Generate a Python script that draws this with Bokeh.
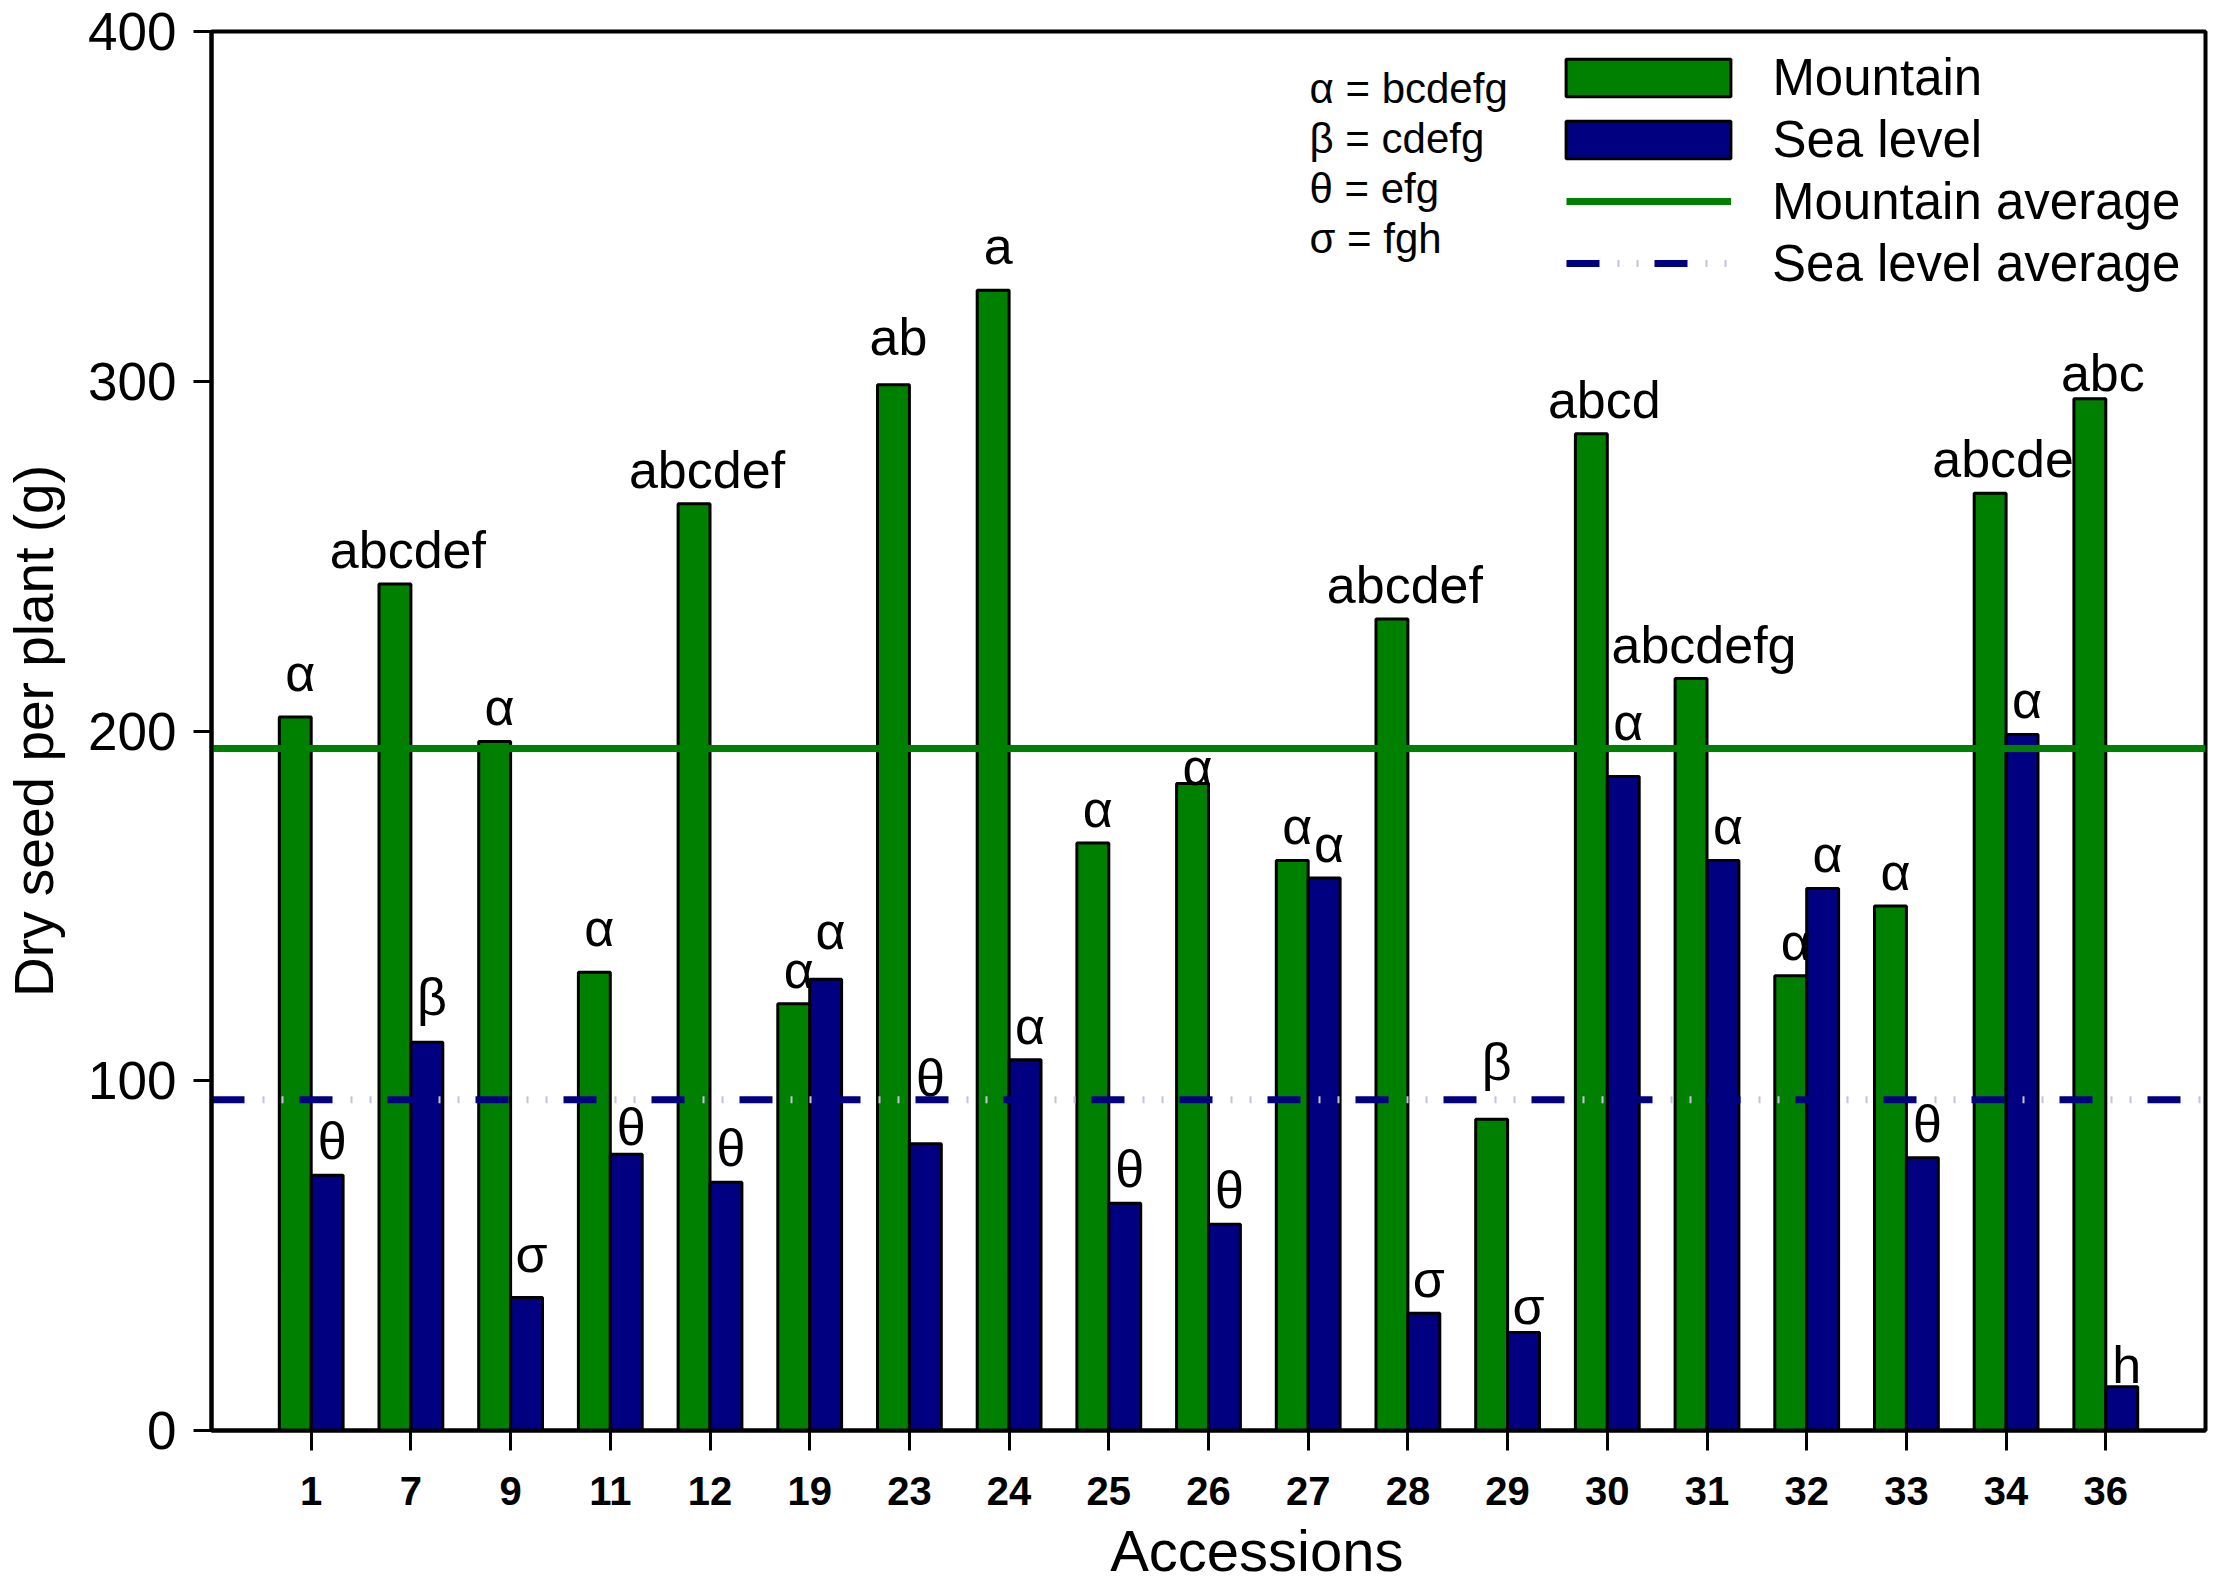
from bokeh.plotting import figure
from bokeh.models import (Range1d, FixedTicker, Legend, LegendItem, Label,
                          ColumnDataSource)
from bokeh.core.properties import value
from bokeh.embed import file_html
from bokeh.resources import INLINE

# ---------------- data ----------------
accessions = ["1", "7", "9", "11", "12", "19", "23", "24", "25", "26",
              "27", "28", "29", "30", "31", "32", "33", "34", "36"]
mountain = [204, 242, 197, 131, 265, 122, 299, 326, 168, 185,
            163, 232, 89, 285, 215, 130, 150, 268, 295]
sea_level = [73, 111, 38, 79, 71, 129, 82, 106, 65, 59,
             158, 33.5, 28, 187, 163, 155, 78, 199, 12.5]
mountain_letters = ["α", "abcdef", "α", "α", "abcdef", "α", "ab", "a", "α", "α",
                    "α", "abcdef", "β", "abcd", "abcdefg", "α", "α", "abcde", "abc"]
sea_letters = ["θ", "β", "σ", "θ", "θ", "α", "θ", "α", "θ", "θ",
               "α", "σ", "σ", "α", "α", "α", "θ", "α", "h"]
mountain_average = 195.0
sea_level_average = 94.6
letter_key = ["α = bcdefg", "β = cdefg", "θ = efg", "σ = fgh"]
y_ticks = [0, 100, 200, 300, 400]

# ---------------- styling ----------------
FONT = "Liberation Sans"
GREEN = "#008000"
NAVY = "#000080"
BAR_W = 0.32
X_LO, X_HI = -1, len(accessions)
LIFT = 34
extra_lift = {("m", 12): 23, ("m", 9): -18, ("s", 6): 32, ("s", 13): 20,
              ("s", 18): -12, ("m", 18): -8,
              ("m", 0): 10, ("m", 3): 10, ("m", 6): 14, ("m", 7): 10,
              ("s", 1): 11, ("s", 2): 10, ("s", 5): 14, ("s", 3): -7, ("s", 12): -7}

W, H = 2217, 1587
BL, BR, BT, BB = 210, 12, 31, 157
p = figure(width=W, height=H, x_range=Range1d(X_LO, X_HI), y_range=Range1d(0, 400),
           output_backend="svg", toolbar_location=None,
           min_border_left=BL, min_border_right=BR, min_border_top=BT,
           min_border_bottom=BB)
p.xgrid.visible = False
p.ygrid.visible = False
p.outline_line_color = "black"
p.outline_line_width = 4
p.outline_line_alpha = 1.0
p.background_fill_color = "white"
p.border_fill_color = "white"

FRAME_W = W - BL - BR
FRAME_H = H - BT - BB

idx = list(range(len(accessions)))
src = ColumnDataSource(dict(
    mx=[i - BAR_W / 2 for i in idx],
    sx=[i + BAR_W / 2 for i in idx],
    mountain=mountain, sea=sea_level))

gm = p.vbar(x="mx", top="mountain", bottom=0, width=BAR_W, source=src,
            fill_color=GREEN, line_color="black", line_width=3)
gs = p.vbar(x="sx", top="sea", bottom=0, width=BAR_W, source=src,
            fill_color=NAVY, line_color="black", line_width=3)

lm = p.line(x=[X_LO, X_HI], y=[mountain_average] * 2, line_color=GREEN, line_width=7)
ls = p.line(x=[X_LO, X_HI], y=[sea_level_average] * 2, line_color=NAVY, line_width=7,
            line_dash="33 55")
ld = p.line(x=[X_LO, X_HI], y=[sea_level_average] * 2, line_color="#c4c4d8", line_width=7,
            line_dash="0 51 2 17 2 16")

# significance letters
def letter_source(vals, letters, side, key):
    xs, ys, offs, xo = [], [], [], []
    for i, (v, t) in enumerate(zip(vals, letters)):
        if side < 0 and len(t) >= 3:
            xs.append(i - 0.03)
            xo.append(0)
        else:
            xs.append(i + side * BAR_W / 2)
            xo.append(5)
        ys.append(v)
        offs.append(-(LIFT + extra_lift.get((key, i), 0)))
    return ColumnDataSource(dict(x=xs, y=ys, t=letters, yo=offs, xo=xo))

for vals, letters, side, key in [(mountain, mountain_letters, -1, "m"),
                                 (sea_level, sea_letters, 1, "s")]:
    p.text(x="x", y="y", text="t", source=letter_source(vals, letters, side, key),
           x_offset="xo", y_offset="yo",
           text_font=value(FONT), text_font_size="52px", text_color="black",
           text_align="center", text_baseline="alphabetic")

# axes
xa = p.xaxis[0]
xa.ticker = FixedTicker(ticks=idx)
xa.major_label_overrides = {i: a for i, a in zip(idx, accessions)}
xa.major_tick_out = 20
xa.major_tick_in = 0
xa.minor_tick_out = 0
xa.minor_tick_in = 0
xa.axis_line_width = 4
xa.major_tick_line_width = 3
xa.major_label_text_font = FONT
xa.major_label_text_font_size = "40px"
xa.major_label_text_font_style = "bold"
xa.major_label_text_color = "black"
xa.major_label_standoff = 26
xa.axis_label = "\u00a0" * 6 + "Accessions"
xa.axis_label_text_font = FONT
xa.axis_label_text_font_size = "58px"
xa.axis_label_text_font_style = "normal"
xa.axis_label_text_color = "black"
xa.axis_label_standoff = 10

ya = p.yaxis[0]
ya.ticker = FixedTicker(ticks=y_ticks)
ya.major_tick_out = 18
ya.major_tick_in = 0
ya.minor_tick_out = 0
ya.minor_tick_in = 0
ya.axis_line_width = 4
ya.major_tick_line_width = 3
ya.major_label_text_font = FONT
ya.major_label_text_font_size = "53px"
ya.major_label_text_color = "black"
ya.major_label_standoff = 17
ya.axis_label = "Dry seed per plant (g)"
ya.axis_label_text_font = FONT
ya.axis_label_text_font_size = "55px"
ya.axis_label_text_font_style = "normal"
ya.axis_label_text_color = "black"
ya.axis_label_standoff = 20

# legends
common = dict(padding=0, margin=0, spacing=0, border_line_color=None,
              background_fill_alpha=0, label_text_font=FONT,
              label_text_font_size="51px", label_text_color="black", label_height=62)
LEG_X = 1355
leg1 = Legend(items=[LegendItem(label="Mountain", renderers=[gm]),
                     LegendItem(label="Sea level", renderers=[gs])],
              location=(LEG_X - 20.6, FRAME_H - 15 - 124),
              glyph_width=206, glyph_height=47, label_standoff=21, **common)
leg2 = Legend(items=[LegendItem(label="Mountain average", renderers=[lm]),
                     LegendItem(label="Sea level average", renderers=[ls, ld])],
              location=(LEG_X, FRAME_H - 139 - 124),
              glyph_width=165, glyph_height=38, label_standoff=41, **common)
p.add_layout(leg1)
p.add_layout(leg2)

for k, t in enumerate(letter_key):
    p.add_layout(Label(x=1098, y=FRAME_H - 57 - 50 * k, x_units="screen", y_units="screen",
                       text=t, text_font=FONT, text_font_size="42px",
                       text_baseline="middle", text_color="black"))

open("out.html", "w").write(file_html(p, INLINE))
